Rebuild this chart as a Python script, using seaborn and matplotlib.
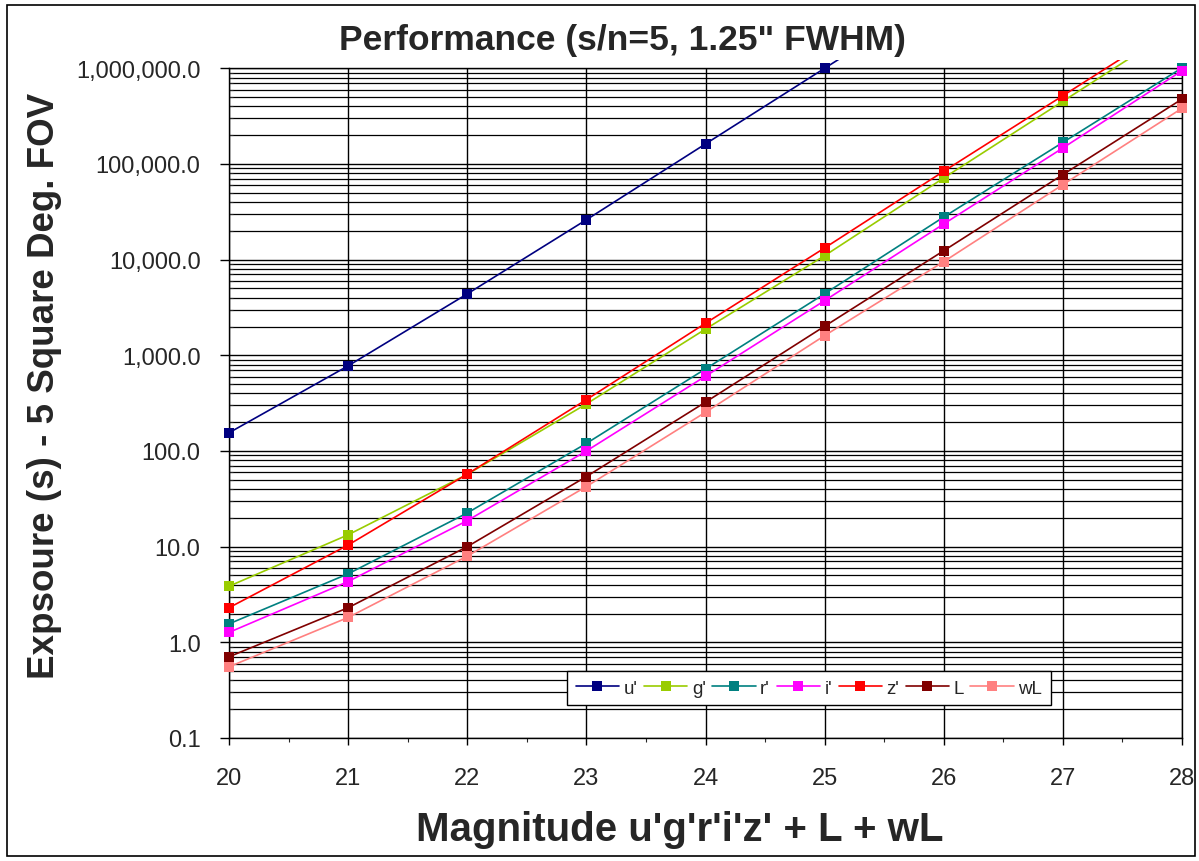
import numpy as np
import pandas as pd
import matplotlib
matplotlib.use("Agg")
import matplotlib.pyplot as plt
import matplotlib.ticker as mticker
from matplotlib.transforms import Bbox
import seaborn as sns

# values
bands = ["u'", "g'", "r'", "i'", "z'", "L", "wL"]
colors = ["#000080", "#99CC00", "#008080", "#FF00FF", "#FF0000", "#800000", "#FF8080"]

mag_u = [20, 21, 22, 23, 24, 25, 26]
exp_u = [155, 776, 4385, 26100, 162000, 1000000, 6200000]

mags = [20, 21, 22, 23, 24, 25, 26, 27, 28]
exp_g = [3.86, 13.3, 57.0, 310, 1880, 11000, 71400, 452000, 2860000]
exp_r = [1.56, 5.2, 22.5, 120, 721, 4400, 27900, 168000, 1010000]
exp_i = [1.27, 4.32, 18.7, 100, 605, 3730, 23600, 147000, 944000]
exp_z = [2.30, 10.4, 57.3, 344, 2163, 13250, 83900, 517000, 3200000]
exp_L = [0.706, 2.30, 10.0, 54, 324, 2013, 12400, 77400, 477000]
exp_wL = [0.555, 1.82, 7.96, 42.5, 254, 1607, 9530, 60800, 382000]

series = {
    "u'": (mag_u, exp_u),
    "g'": (mags, exp_g),
    "r'": (mags, exp_r),
    "i'": (mags, exp_i),
    "z'": (mags, exp_z),
    "L": (mags, exp_L),
    "wL": (mags, exp_wL),
}

sns.set_style("white")
plt.rcParams['font.family'] = ['Liberation Sans', 'DejaVu Sans']

W, H = 1199, 862
fig = plt.figure(figsize=(W / 100, H / 100), dpi=100)
ax = fig.add_axes([229 / W, 1 - 739 / H, (1182 - 229) / W, (739 - 69.3) / H])

for band, col in zip(bands, colors):
    x, y = series[band]
    df = pd.DataFrame({"mag": x, "exp": y})
    sns.lineplot(data=df, x="mag", y="exp", color=col, marker="s", markersize=7,
                 markeredgewidth=0, linewidth=1.2, label=band, ax=ax, zorder=3)

ax.set_yscale("log")
ax.set_xlim(20, 28)
ax.set_ylim(0.1, 1000000)

# let the lines and markers run a few pixels past the plot area, like Excel does
b = ax.bbox
clip = Bbox.from_extents(b.x0 - 8, b.y0 - 8, b.x1 + 8, b.y1 + 8)
for ln in ax.get_lines():
    ln.set_clip_box(clip)

ax.set_xticks(range(20, 29))
ax.xaxis.set_minor_locator(mticker.MultipleLocator(0.5))
ax.yaxis.set_major_locator(mticker.LogLocator(base=10, numticks=20))
ax.yaxis.set_minor_locator(mticker.LogLocator(base=10, subs=np.arange(2, 10), numticks=20))
ax.yaxis.set_major_formatter(mticker.FuncFormatter(lambda v, p: f"{v:,.1f}"))
ax.yaxis.set_minor_formatter(mticker.NullFormatter())

ax.grid(which="major", axis="both", color="black", linewidth=1.0)
ax.grid(which="minor", axis="y", color="black", linewidth=0.9)
ax.set_axisbelow(True)
for s in ax.spines.values():
    s.set_color("black")
    s.set_linewidth(1.0)

ax.tick_params(axis="y", which="major", direction="out", length=6.5, width=1, pad=14,
               labelsize=17, left=True, color="black")
ax.tick_params(axis="y", which="minor", direction="in", length=3, width=0.8, left=True)
ax.tick_params(axis="x", which="major", direction="out", length=5, width=1, pad=16,
               labelsize=17, bottom=True, color="black")
ax.tick_params(axis="x", which="minor", direction="out", length=3, width=0.8, bottom=True)
ax.set_xlabel("")
ax.set_ylabel("")

fig.text(622 / W, 1 - 50 / H, "Performance (s/n=5, 1.25\" FWHM)", ha="center",
         va="baseline", fontsize=25.5, fontweight="bold")
fig.text(45 / W, 1 - 386 / H, "Expsoure (s) - 5 Square Deg. FOV", ha="center",
         va="center", rotation=90, fontsize=26.5, fontweight="bold")
fig.text(680 / W, 1 - 830 / H, "Magnitude u'g'r'i'z' + L + wL", ha="center",
         va="center", fontsize=29, fontweight="bold")

leg = ax.legend(loc="center", bbox_to_anchor=(809 / W, 1 - 689 / H),
                bbox_transform=fig.transFigure, ncol=7, fontsize=13.5,
                frameon=True, fancybox=False, framealpha=1, edgecolor="black",
                handlelength=2.3, handletextpad=0.25, columnspacing=0.35,
                borderpad=0.45, borderaxespad=0, markerscale=1.0)
leg.get_frame().set_linewidth(1.0)

# chart border
fig.patches.append(plt.Rectangle((7 / W, 1 - 857 / H), (1195 - 7) / W, (857 - 6) / H,
                                 transform=fig.transFigure, fill=False,
                                 edgecolor="black", linewidth=1.2))

fig.savefig("out.png", dpi=100)
